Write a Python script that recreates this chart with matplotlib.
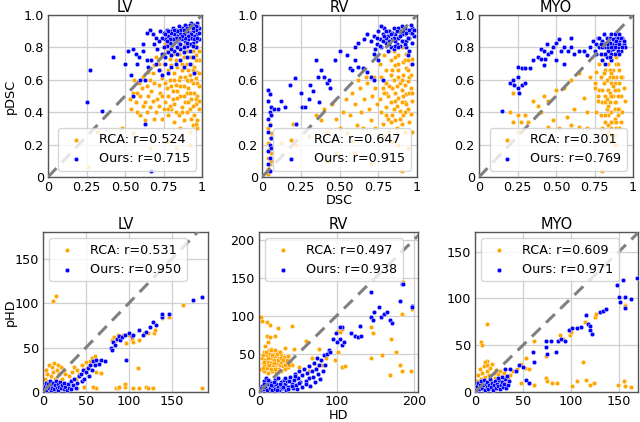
import numpy as np
import matplotlib
matplotlib.use("Agg")
import matplotlib.pyplot as plt

# ---- data (approximate) ----
parts = ["LV", "RV", "MYO"]
r_dsc_rca = [0.524, 0.647, 0.301]
r_dsc_ours = [0.715, 0.915, 0.769]
r_hd_rca = [0.531, 0.497, 0.609]
r_hd_ours = [0.950, 0.938, 0.971]

# DSC vs pDSC, LV
lv_dsc_rca = [(0.97,0.88),(0.96,0.85),(0.95,0.82),(0.97,0.80),(0.94,0.78),(0.96,0.75),(0.98,0.72),(0.93,0.70),(0.95,0.68),(0.97,0.65),
    (0.92,0.63),(0.96,0.61),(0.94,0.58),(0.98,0.56),(0.91,0.55),(0.95,0.52),(0.97,0.50),(0.93,0.48),(0.96,0.45),(0.98,0.42),
    (0.92,0.42),(0.95,0.38),(0.97,0.35),(0.94,0.32),(0.97,0.30),(0.89,0.82),(0.90,0.78),(0.88,0.74),(0.90,0.70),(0.87,0.66),
    (0.89,0.62),(0.91,0.59),(0.88,0.56),(0.90,0.52),(0.86,0.50),(0.89,0.46),(0.87,0.43),(0.90,0.40),(0.85,0.38),(0.88,0.35),
    (0.84,0.80),(0.85,0.76),(0.83,0.72),(0.84,0.68),(0.82,0.64),(0.85,0.60),(0.83,0.57),(0.81,0.53),(0.84,0.49),(0.82,0.45),
    (0.80,0.42),(0.83,0.40),(0.81,0.76),(0.79,0.73),(0.80,0.69),(0.78,0.66),(0.79,0.60),(0.77,0.55),(0.78,0.50),(0.76,0.46),
    (0.79,0.44),(0.75,0.42),(0.77,0.78),(0.74,0.75),(0.75,0.70),(0.73,0.66),(0.74,0.61),(0.72,0.57),(0.73,0.52),(0.71,0.48),
    (0.72,0.44),(0.70,0.40),(0.70,0.74),(0.69,0.69),(0.68,0.64),(0.69,0.58),(0.67,0.53),(0.68,0.47),(0.66,0.43),(0.66,0.60),
    (0.64,0.56),(0.65,0.50),(0.63,0.46),(0.64,0.40),(0.62,0.62),(0.61,0.55),(0.60,0.50),(0.62,0.44),(0.59,0.58),(0.58,0.52),
    (0.57,0.46),(0.56,0.60),(0.55,0.52),(0.54,0.42),(0.53,0.48),(0.58,0.40),(0.60,0.38),(0.63,0.35),(0.69,0.36),(0.74,0.36),
    (0.78,0.38),(0.82,0.34),(0.86,0.30),(0.92,0.28),(0.65,0.65),(0.72,0.70),(0.76,0.82),(0.80,0.86),(0.86,0.86),(0.93,0.90),
    (0.97,0.91),(0.66,0.18),(0.78,0.22),(0.83,0.18),(0.92,0.20),(0.26,0.06),(0.32,0.28),(0.48,0.30),(0.55,0.27),
    (0.93,0.86),(0.95,0.80),(0.98,0.78),(0.92,0.74),(0.96,0.72),(0.94,0.66),(0.98,0.64),(0.91,0.66),(0.93,0.60),(0.97,0.58),
    (0.92,0.52),(0.96,0.48),(0.94,0.44),(0.91,0.46),(0.98,0.47),(0.93,0.36),(0.96,0.33),(0.90,0.60),(0.87,0.70),(0.86,0.62),
    (0.86,0.56),(0.84,0.53),(0.88,0.50),(0.87,0.40),(0.82,0.60),(0.80,0.56),(0.81,0.48),(0.78,0.42),(0.76,0.58),(0.74,0.50)]
lv_dsc_ours = [(0.97,0.95),(0.95,0.94),(0.93,0.95),(0.91,0.93),(0.89,0.94),(0.87,0.92),(0.85,0.93),(0.83,0.91),(0.81,0.92),(0.79,0.90),
    (0.77,0.91),(0.75,0.89),(0.73,0.90),(0.98,0.92),(0.96,0.91),(0.94,0.90),(0.92,0.89),(0.90,0.90),(0.88,0.88),(0.86,0.89),
    (0.84,0.87),(0.82,0.88),(0.80,0.86),(0.78,0.87),(0.76,0.85),(0.74,0.86),(0.72,0.84),(0.97,0.88),(0.95,0.87),(0.93,0.86),
    (0.91,0.85),(0.89,0.84),(0.87,0.85),(0.85,0.83),(0.83,0.84),(0.81,0.82),(0.79,0.83),(0.77,0.81),(0.75,0.80),(0.96,0.84),
    (0.94,0.83),(0.92,0.82),(0.90,0.81),(0.88,0.80),(0.86,0.79),(0.84,0.80),(0.82,0.78),(0.80,0.79),(0.78,0.77),(0.70,0.86),
    (0.68,0.88),(0.66,0.91),(0.69,0.82),(0.71,0.79),(0.74,0.76),(0.76,0.74),(0.80,0.75),(0.84,0.76),(0.88,0.77),(0.92,0.78),
    (0.96,0.80),(0.98,0.85),(0.98,0.89),(0.97,0.93),(0.27,0.66),(0.42,0.74),(0.52,0.78),(0.55,0.79),(0.57,0.76),(0.59,0.74),
    (0.62,0.82),(0.64,0.89),(0.62,0.78),(0.64,0.72),(0.25,0.46),(0.35,0.41),(0.54,0.63),(0.60,0.60),(0.63,0.60),(0.65,0.68),
    (0.67,0.72),(0.70,0.70),(0.72,0.66),(0.74,0.63),(0.78,0.64),(0.80,0.68),(0.83,0.70),(0.86,0.72),(0.88,0.68),(0.92,0.70),
    (0.95,0.64),(0.63,0.33),(0.67,0.04),(0.55,0.50),(0.76,0.70),(0.90,0.74),(0.94,0.74),(0.58,0.70),(0.50,0.70),
    (0.96,0.93),(0.94,0.92),(0.92,0.94),(0.90,0.92),(0.88,0.91),(0.86,0.91),(0.84,0.90),(0.82,0.91),(0.80,0.89),(0.78,0.90),
    (0.76,0.88),(0.93,0.88),(0.91,0.87),(0.89,0.86),(0.87,0.87),(0.85,0.86),(0.83,0.86),(0.81,0.85),(0.79,0.85),(0.77,0.84),
    (0.95,0.85),(0.97,0.86),(0.86,0.82),(0.90,0.83),(0.94,0.81)]

# DSC vs pDSC, RV
rv_dsc_rca = [(0.04,0.05),(0.05,0.08),(0.04,0.12),(0.06,0.15),(0.05,0.18),(0.04,0.21),(0.05,0.24),(0.06,0.27),(0.04,0.30),(0.05,0.33),
    (0.04,0.02),(0.06,0.10),(0.20,0.33),(0.22,0.20),(0.18,0.12),(0.12,0.21),(0.30,0.25),(0.35,0.38),(0.38,0.35),(0.40,0.42),
    (0.42,0.28),(0.45,0.45),(0.48,0.36),(0.50,0.30),(0.52,0.40),(0.54,0.48),(0.55,0.27),(0.57,0.38),(0.58,0.52),(0.60,0.45),
    (0.61,0.32),(0.63,0.55),(0.64,0.40),(0.65,0.30),(0.66,0.48),(0.68,0.58),(0.69,0.42),(0.70,0.35),(0.71,0.50),(0.72,0.62),
    (0.73,0.30),(0.74,0.45),(0.73,0.55),(0.67,0.62),(0.62,0.60),(0.58,0.22),(0.48,0.15),(0.42,0.10),(0.60,0.15),(0.70,0.08),
    (0.90,0.04),(0.76,0.70),(0.77,0.62),(0.78,0.55),(0.76,0.48),(0.77,0.40),(0.78,0.33),(0.79,0.75),(0.80,0.66),(0.80,0.58),
    (0.81,0.50),(0.80,0.43),(0.81,0.36),(0.82,0.28),(0.83,0.72),(0.83,0.63),(0.84,0.55),(0.83,0.46),(0.84,0.38),(0.85,0.78),
    (0.86,0.69),(0.85,0.60),(0.86,0.52),(0.87,0.44),(0.86,0.35),(0.87,0.30),(0.88,0.75),(0.88,0.66),(0.89,0.58),(0.88,0.49),
    (0.89,0.41),(0.90,0.33),(0.90,0.80),(0.91,0.71),(0.91,0.63),(0.90,0.54),(0.92,0.46),(0.91,0.38),(0.93,0.76),(0.93,0.67),
    (0.94,0.59),(0.93,0.51),(0.94,0.42),(0.95,0.34),(0.95,0.78),(0.96,0.70),(0.95,0.62),(0.96,0.55),(0.97,0.47),(0.96,0.39),
    (0.97,0.28),(0.92,0.28),(0.82,0.78),(0.78,0.25),(0.84,0.22),(0.88,0.20),(0.94,0.18),(0.97,0.73),(0.80,0.52),(0.86,0.47),
    (0.92,0.57),(0.84,0.66),(0.88,0.62),
    (0.92,0.72),(0.94,0.66),(0.90,0.60),(0.95,0.52),(0.92,0.40),(0.89,0.36),(0.85,0.42),(0.82,0.56),(0.79,0.52),(0.87,0.56),
    (0.93,0.45),(0.96,0.63),(0.91,0.50),(0.83,0.34),(0.80,0.38),(0.86,0.74),(0.88,0.70),(0.94,0.72),(0.97,0.52),(0.90,0.46)]
rv_dsc_ours = [(0.04,0.08),(0.05,0.12),(0.04,0.16),(0.05,0.20),(0.06,0.24),(0.04,0.28),(0.05,0.32),(0.04,0.36),(0.05,0.40),(0.06,0.43),
    (0.04,0.47),(0.05,0.51),(0.04,0.54),(0.06,0.38),(0.05,0.04),(0.06,0.18),(0.08,0.42),(0.10,0.42),(0.12,0.47),(0.15,0.43),
    (0.18,0.57),(0.21,0.61),(0.19,0.11),(0.22,0.33),(0.25,0.52),(0.26,0.43),(0.28,0.43),(0.30,0.48),(0.31,0.57),(0.33,0.53),
    (0.35,0.72),(0.36,0.62),(0.37,0.46),(0.38,0.66),(0.40,0.62),(0.42,0.58),(0.43,0.60),(0.44,0.55),(0.47,0.72),(0.50,0.78),
    (0.55,0.75),(0.57,0.67),(0.60,0.80),(0.62,0.83),(0.58,0.66),(0.62,0.68),(0.65,0.67),(0.68,0.65),(0.70,0.62),(0.72,0.60),
    (0.75,0.72),(0.72,0.76),(0.66,0.85),(0.68,0.88),(0.78,0.60),(0.60,0.72),(0.70,0.84),(0.72,0.87),(0.74,0.82),(0.75,0.90),
    (0.76,0.85),(0.77,0.80),(0.78,0.88),(0.79,0.92),(0.80,0.83),(0.81,0.87),(0.82,0.90),(0.83,0.80),(0.84,0.85),(0.85,0.92),
    (0.86,0.88),(0.87,0.82),(0.88,0.86),(0.89,0.90),(0.90,0.93),(0.91,0.84),(0.92,0.88),(0.93,0.80),(0.94,0.91),(0.95,0.86),
    (0.96,0.89),(0.97,0.83),(0.97,0.92),(0.98,0.87),(0.73,0.79),(0.77,0.93),(0.81,0.78),(0.85,0.79),(0.89,0.81),(0.93,0.84),
    (0.95,0.78),(0.90,0.88),(0.86,0.84),(0.82,0.84),(0.78,0.84),(0.74,0.86),(0.84,0.89),(0.88,0.92),(0.92,0.92),(0.96,0.94),
    (0.80,0.90),(0.94,0.75),(0.97,0.70),
    (0.83,0.88),(0.85,0.86),(0.87,0.90),(0.89,0.87),(0.91,0.90),(0.93,0.89),(0.95,0.91),(0.97,0.89),(0.80,0.86),(0.82,0.82),
    (0.86,0.81),(0.90,0.84),(0.94,0.86),(0.92,0.82),(0.88,0.80),(0.76,0.81),(0.79,0.87),(0.98,0.91)]

# DSC vs pDSC, MYO
myo_dsc_rca = [(0.22,0.52),(0.20,0.40),(0.25,0.38),(0.27,0.34),(0.30,0.38),(0.32,0.34),(0.35,0.47),(0.38,0.44),(0.40,0.40),(0.42,0.50),
    (0.45,0.47),(0.48,0.35),(0.50,0.54),(0.52,0.30),(0.55,0.55),(0.57,0.37),(0.60,0.60),(0.62,0.42),(0.65,0.64),(0.68,0.49),
    (0.70,0.40),(0.72,0.62),(0.75,0.55),(0.77,0.47),(0.45,0.31),(0.60,0.32),(0.65,0.31),(0.70,0.30),(0.25,0.28),(0.22,0.34),
    (0.78,0.70),(0.79,0.62),(0.78,0.54),(0.80,0.46),(0.79,0.38),(0.80,0.30),(0.81,0.75),(0.82,0.66),(0.81,0.58),(0.82,0.50),
    (0.83,0.42),(0.82,0.34),(0.83,0.26),(0.84,0.70),(0.85,0.62),(0.84,0.54),(0.85,0.46),(0.84,0.38),(0.86,0.30),(0.86,0.74),
    (0.87,0.66),(0.86,0.58),(0.87,0.50),(0.88,0.42),(0.87,0.34),(0.88,0.26),(0.89,0.70),(0.89,0.62),(0.90,0.54),(0.89,0.46),
    (0.90,0.38),(0.89,0.30),(0.91,0.66),(0.91,0.58),(0.92,0.50),(0.91,0.42),(0.92,0.34),(0.90,0.78),(0.93,0.62),(0.94,0.55),
    (0.95,0.47),(0.93,0.40),(0.88,0.20),(0.85,0.22),(0.80,0.04),(0.76,0.65),(0.75,0.58),(0.77,0.50),(0.76,0.40),(0.83,0.60),
    (0.85,0.52),(0.88,0.58),(0.86,0.40),(0.82,0.46),(0.87,0.62),(0.90,0.70),(0.84,0.32),(0.88,0.36),
    (0.86,0.50),(0.88,0.46),(0.90,0.50),(0.84,0.44),(0.82,0.38),(0.86,0.34),(0.90,0.42),(0.88,0.54),(0.85,0.66),(0.87,0.56),
    (0.83,0.48),(0.89,0.34),(0.91,0.30),(0.86,0.26),(0.84,0.28),(0.80,0.54),(0.81,0.64),(0.92,0.62),(0.89,0.74),(0.86,0.64)]
myo_dsc_ours = [(0.15,0.41),(0.20,0.58),(0.22,0.60),(0.23,0.57),(0.25,0.62),(0.25,0.55),(0.26,0.52),(0.28,0.57),(0.30,0.58),(0.25,0.68),
    (0.28,0.67),(0.30,0.67),(0.33,0.67),(0.35,0.72),(0.38,0.74),(0.40,0.79),(0.42,0.78),(0.45,0.76),(0.48,0.80),(0.47,0.77),
    (0.50,0.83),(0.53,0.78),(0.55,0.80),(0.58,0.78),(0.60,0.80),(0.62,0.76),(0.65,0.78),(0.68,0.78),(0.70,0.75),(0.55,0.70),
    (0.50,0.72),(0.44,0.82),(0.52,0.85),(0.60,0.86),(0.43,0.73),(0.42,0.69),(0.40,0.73),(0.72,0.80),(0.74,0.84),(0.75,0.78),
    (0.76,0.82),(0.77,0.86),(0.78,0.80),(0.79,0.76),(0.80,0.84),(0.81,0.88),(0.82,0.80),(0.83,0.74),(0.84,0.84),(0.85,0.78),
    (0.86,0.88),(0.87,0.82),(0.88,0.76),(0.89,0.86),(0.90,0.80),(0.91,0.84),(0.92,0.78),(0.93,0.86),(0.94,0.82),(0.95,0.80),
    (0.83,0.86),(0.85,0.83),(0.87,0.79),(0.89,0.82),(0.91,0.88),(0.80,0.72),(0.82,0.70),(0.86,0.72),(0.78,0.86),(0.76,0.76),
    (0.88,0.84),(0.90,0.86),(0.84,0.80),(0.86,0.76),(0.80,0.80),
    (0.85,0.86),(0.87,0.85),(0.89,0.84),(0.91,0.82),(0.93,0.80),(0.83,0.82),(0.81,0.82),(0.79,0.82),(0.86,0.80),(0.88,0.80),
    (0.90,0.78),(0.84,0.78),(0.82,0.76),(0.92,0.86),(0.94,0.84),(0.88,0.88),(0.85,0.74),(0.91,0.76)]

# HD vs pHD, LV
lv_hd_rca = [(2,15),(3,25),(4,8),(5,20),(6,12),(7,30),(8,5),(9,18),(10,28),(11,10),(12,22),(13,33),(14,15),(15,8),(16,25),
    (17,30),(18,12),(19,20),(20,5),(21,28),(22,15),(24,25),(25,10),(26,20),(28,8),(30,18),(32,12),(34,22),(36,28),(38,15),
    (40,25),(42,20),(45,30),(48,26),(50,34),(52,28),(55,35),(57,38),(58,32),(60,40),(62,23),(68,21),(12,102),(15,108),(80,58),
    (83,62),(85,58),(87,64),(89,60),(93,64),(97,55),(100,64),(103,60),(105,56),(110,27),(112,58),(118,66),(122,66),(129,66),
    (130,70),(138,83),(147,84),(163,98),(85,4),(87,4),(89,6),(95,6),(95,9),(105,5),(112,5),(120,6),(122,5),(128,5),(185,5),
    (62,4),(58,6),(40,4),(48,6),(30,3)]
lv_hd_ours = [(1,3),(2,7),(3,10),(4,2),(5,6),(6,9),(7,4),(8,12),(9,2),(10,7),(11,5),(12,10),(13,3),(14,8),(15,12),(16,4),
    (17,9),(18,2),(19,6),(20,11),(21,4),(22,8),(24,3),(25,10),(26,6),(28,2),(29,9),(30,5),(32,12),(33,3),(35,8),(36,15),
    (38,5),(40,10),(42,18),(44,20),(45,12),(47,25),(48,15),(50,22),(52,27),(54,18),(55,30),(57,25),(58,35),(60,30),(62,36),
    (65,32),(68,36),(72,35),(79,50),(80,47),(82,56),(84,53),(86,60),(88,63),(90,58),(92,62),(95,64),(96,36),(100,66),
    (103,63),(105,64),(112,70),(116,64),(120,68),(124,73),(128,79),(132,75),(138,84),(138,88),(147,88),(175,104),(185,107)]

# HD vs pHD, RV
rv_hd_rca = [(3,30),(4,45),(5,38),(6,52),(7,28),(8,42),(9,35),(10,48),(11,25),(12,40),(13,55),(14,32),(15,45),(16,38),(17,28),
    (18,50),(19,42),(20,33),(21,47),(22,26),(23,38),(24,52),(25,30),(26,44),(27,36),(28,48),(29,28),(30,40),(31,34),(32,46),
    (34,30),(35,38),(36,42),(38,33),(40,40),(42,35),(8,60),(12,65),(15,57),(6,36),(10,32),(20,55),(28,40),(14,50),(18,35),
    (5,48),(7,40),(9,52),(11,44),(13,36),(15,30),(17,48),(19,38),(21,30),(23,50),(25,42),(27,52),(29,44),(31,42),(33,36),
    (5,32),(16,55),(26,27),(37,47),(39,36),
    (3,99),(4,93),(10,92),(14,88),(10,74),(14,72),(20,74),(24,84),(42,87),(33,58),(45,57),(60,67),(77,56),(102,80),(105,79),
    (107,83),(98,42),(102,52),(107,33),(111,34),(145,85),(147,77),(158,48),(145,44),(170,70),(169,22),(176,53),(182,36),
    (184,27),(185,103),(186,144),(196,27),(197,109),(64,27),(68,44),(73,31),(81,36),(86,44),(52,33)]
rv_hd_ours = [(2,2),(4,8),(5,4),(6,14),(8,6),(9,18),(10,3),(12,10),(13,15),(14,5),(16,12),(17,2),(18,8),(20,16),(21,4),
    (22,11),(24,7),(25,19),(26,3),(28,13),(29,8),(30,5),(32,16),(33,10),(35,3),(36,14),(38,7),(40,20),(42,11),(44,5),
    (45,16),(47,24),(48,9),(50,18),(52,28),(53,13),(55,6),(56,22),(58,30),(60,15),(61,10),(62,25),(64,34),(65,18),(66,8),
    (68,28),(70,20),(71,38),(72,13),(74,30),(75,45),(76,24),(78,35),(79,17),(80,42),(82,28),(84,48),(85,36),(88,50),(90,55),
    (3,5),(7,11),(11,16),(15,9),(19,13),(23,3),(27,10),(31,7),(34,19),(37,4),(39,15),(43,8),(46,21),(49,4),(51,12),
    (92,52),(96,70),(99,77),(100,66),(105,70),(107,62),(109,66),(119,77),(124,74),(128,72),(130,87),(132,74),(145,131),
    (145,98),(147,94),(148,105),(155,111),(157,98),(161,103),(165,105),(169,94),(172,90),(182,119),(185,142),(186,142),
    (197,113),(197,111),(107,85),(105,85)]

# HD vs pHD, MYO
myo_hd_rca = [(1,5),(2,12),(3,18),(4,8),(5,25),(6,14),(7,20),(8,4),(9,28),(10,16),(11,10),(12,22),(13,33),(14,7),(15,18),
    (16,26),(17,12),(18,30),(19,5),(20,20),(21,15),(22,24),(23,9),(24,19),(25,13),(26,22),(27,6),(28,17),(30,20),(32,10),
    (34,15),(36,18),(40,22),(44,25),(48,30),(52,26),(13,73),(6,53),(7,50),(10,32),(12,29),(62,54),(53,36),(56,25),(48,10),
    (56,10),(62,8),(74,15),(75,12),(80,10),(86,10),(101,6),(106,12),(113,32),(116,13),(120,8),(124,10),(149,8),(155,12),
    (156,6),(163,5),(74,39),(89,61),(92,57),(99,61),(100,64),(115,75),(125,80),(126,83),(137,89),(156,93),(156,92)]
myo_hd_ours = [(1,2),(2,6),(3,10),(4,3),(5,8),(6,12),(7,4),(8,7),(9,13),(10,2),(11,9),(12,5),(13,11),(14,3),(15,7),
    (16,14),(17,5),(18,10),(19,2),(20,8),(21,12),(22,4),(23,9),(24,6),(25,13),(26,3),(27,8),(28,11),(29,5),(30,9),(31,14),
    (32,4),(34,8),(35,12),(33,17),(28,16),(24,15),(31,25),(36,25),(43,22),(46,29),(50,27),(53,13),(56,10),(62,32),(60,43),
    (74,54),(74,48),(75,41),(79,55),(84,43),(87,54),(90,57),(94,54),(98,66),(101,68),(106,68),(111,69),(116,82),(118,73),
    (120,66),(122,62),(120,71),(130,85),(134,87),(137,89),(148,114),(150,101),(151,96),(154,120),(156,101),(156,90),
    (163,99),(169,122)]

dsc_rca = [lv_dsc_rca, rv_dsc_rca, myo_dsc_rca]
dsc_ours = [lv_dsc_ours, rv_dsc_ours, myo_dsc_ours]
hd_rca = [lv_hd_rca, rv_hd_rca, myo_hd_rca]
hd_ours = [lv_hd_ours, rv_hd_ours, myo_hd_ours]
hd_lims = [(192, 180), (205, 210), (170, 171)]

plt.rcParams['font.family'] = ['DejaVu Sans']
plt.rcParams['font.size'] = 9.2

fig = plt.figure(figsize=(6.4, 4.22), dpi=100)
W, H = 640.0, 422.0
top_boxes = [(48, 202), (262, 417), (479, 633)]
bot_boxes = [(43, 208), (259, 418), (475, 638)]


def make_ax(x0, x1, y0, y1):
    return fig.add_axes([x0 / W, 1 - y1 / H, (x1 - x0) / W, (y1 - y0) / H])


def style(ax):
    ax.set_facecolor('white')
    ax.grid(True, color='#cfcfcf', lw=0.9, zorder=0)
    ax.set_axisbelow(True)
    for s in ax.spines.values():
        s.set_color('#555555')
        s.set_linewidth(1.0)
    ax.tick_params(length=0, pad=3)


def draw(ax, rca, ours, r1, r2, xmax, ymax, loc):
    rca = np.array(rca, dtype=float)
    ours = np.array(ours, dtype=float)
    ax.scatter(rca[:, 0], rca[:, 1], s=11, c='orange', edgecolors='white', linewidths=0.3,
               label='RCA: r=%.3f' % r1, zorder=2)
    ax.scatter(ours[:, 0], ours[:, 1], s=11, c='blue', edgecolors='white', linewidths=0.3,
               label='Ours: r=%.3f' % r2, zorder=3)
    m = max(xmax, ymax)
    ax.plot([0, m], [0, m], '--', color='gray', lw=2.2, dashes=(4, 2.5), zorder=4)
    ax.set_xlim(0, xmax)
    ax.set_ylim(0, ymax)
    ax.legend(loc=loc, fontsize=9.2)


for i in range(3):
    ax = make_ax(top_boxes[i][0], top_boxes[i][1], 15, 177)
    style(ax)
    draw(ax, dsc_rca[i], dsc_ours[i], r_dsc_rca[i], r_dsc_ours[i], 1.0, 1.0, 'lower right')
    ax.set_xticks([0, 0.25, 0.5, 0.75, 1.0])
    ax.set_xticklabels(['0', '0.25', '0.50', '0.75', '1'])
    ax.set_yticks([0, 0.2, 0.4, 0.6, 0.8, 1.0])
    ax.set_yticklabels(['0', '0.2', '0.4', '0.6', '0.8', '1.0'])
    ax.set_title(parts[i], fontsize=10.5, pad=2)

for i in range(3):
    ax = make_ax(bot_boxes[i][0], bot_boxes[i][1], 232, 392)
    style(ax)
    ax.tick_params(axis='x', pad=2)
    xm, ym = hd_lims[i]
    draw(ax, hd_rca[i], hd_ours[i], r_hd_rca[i], r_hd_ours[i], xm, ym, 'upper left')
    if i == 1:
        ax.set_xticks([0, 100, 200])
        ax.set_yticks([0, 50, 100, 150, 200])
    else:
        ax.set_xticks([0, 50, 100, 150])
        ax.set_yticks([0, 50, 100, 150])
    ax.set_title(parts[i], fontsize=10.5, pad=2)

# axis labels placed by hand, as in the reference
fig.text(10 / W, 1 - 96 / H, 'pDSC', rotation=90, ha='center', va='center')
fig.text(339 / W, 1 - 200 / H, 'DSC', ha='center', va='center')
fig.text(10 / W, 1 - 312 / H, 'pHD', rotation=90, ha='center', va='center')
fig.text(338 / W, 1 - 422 / H, 'HD', ha='center', va='bottom')

fig.savefig('out.png', dpi=100)
